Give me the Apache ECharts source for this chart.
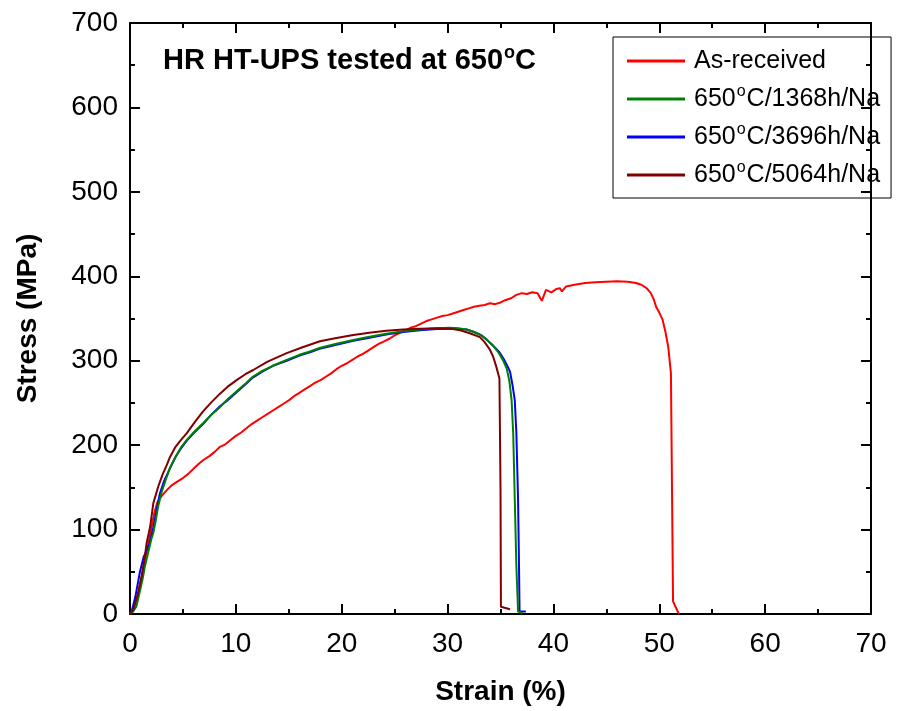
<!DOCTYPE html>
<html>
<head>
<meta charset="utf-8">
<script src="https://cdn.jsdelivr.net/npm/echarts@6/dist/echarts.min.js"></script>
<style>
  html, body { margin: 0; padding: 0; background: #fff; }
  #chart { width: 898px; height: 711px; }
</style>
</head>
<body>
<div id="chart"></div>
<script>
// 数据
var seriesNames = ['As-received', '650°C/1368h/Na', '650°C/3696h/Na', '650°C/5064h/Na'];
var seriesColors = ['#ff0000', '#008000', '#0000ff', '#800000'];

var asReceived = [[0,0],[0.3,5],[0.8,25],[1.2,50],[1.6,75],[2.0,100],[2.3,120],[2.6,133],[3.0,140],[3.5,147],[4.0,153],[4.5,157],[5.0,161],[5.5,166],[6.0,172],[6.5,178],[7.0,183],[7.5,187],[8.0,192],[8.5,198],[9.0,201],[9.5,206],[10,211],[10.5,215],[11,220],[11.5,225],[12,229],[12.5,233],[13,237],[13.5,241],[14,245],[14.5,249],[15,253],[15.5,258],[16,262],[16.5,266],[17,270],[17.5,274],[18,277],[18.5,281],[19,285],[19.5,290],[20,294],[20.5,297],[21,301],[21.5,305],[22,308],[22.5,312],[23,316],[23.5,320],[24,323],[24.5,326],[25,330],[25.5,333],[26,336],[26.5,339],[27,341],[27.5,344],[28,347],[28.5,349],[29,351],[29.5,353],[30,354],[30.5,356],[31,358],[31.5,360],[32,362],[32.5,364],[33,365],[33.5,366],[34,368],[34.5,367],[35,369],[35.5,372],[36,374],[36.5,378],[37,380],[37.5,379],[38,381],[38.5,380],[38.9,371],[39.3,384],[39.8,381],[40.3,385],[40.6,386],[40.8,382],[41.2,388],[42,390],[43,392],[44,393],[45,393.5],[46,394],[47,393.5],[47.8,392],[48.3,390],[48.8,386],[49.2,380],[49.5,372],[49.7,364],[50.0,357],[50.3,349],[50.6,333],[50.85,316],[51.1,285],[51.2,150],[51.3,15],[51.85,0]];

var h1368 = [[0,0],[0.3,3],[0.6,9],[0.9,25],[1.2,42],[1.4,56],[1.7,72],[2.0,88],[2.2,96],[2.45,112],[2.67,128],[3.0,145],[3.4,160],[3.8,174],[4.3,186],[4.8,197],[5.35,206],[6.0,215],[6.9,226],[7.6,235],[8.5,245],[9.2,254],[10.1,264],[11,274],[11.6,281],[12.5,288],[13.5,294],[14.8,301],[16,307],[17,311],[17.9,315],[19.5,320],[21.1,324.5],[22.5,328],[24.2,332],[25.8,335],[27.4,337],[29,338.5],[30.2,339],[31,338.5],[31.8,337],[32.5,334],[33.05,331],[33.6,326],[34.3,318],[34.8,310],[35.3,299],[35.6,290],[35.85,275],[36.05,253],[36.2,214],[36.35,135],[36.5,56],[36.66,3],[37.1,1]];

var h3696 = [[0,0],[0.2,5],[0.5,20],[0.94,50],[1.3,68],[1.6,76],[1.9,86],[2.2,102],[2.5,122],[2.83,143],[3.2,157],[3.8,173],[4.3,186],[4.8,196],[5.35,205],[6.0,214],[6.9,225],[7.6,235],[8.5,246],[9.2,253],[10.1,263],[11,273],[11.6,280],[12.5,287],[13.5,294],[14.8,300],[16,306],[17,310],[17.9,314],[19.5,319],[21.1,323.5],[22.5,327],[24.2,331],[25.8,334],[27.4,336],[29,337.5],[30.2,338],[31,338],[31.8,337],[32.5,334],[33.2,330],[33.7,325],[34.2,319],[34.6,314],[34.9,310],[35.3,302],[35.6,295],[35.9,287],[36.15,270],[36.35,253],[36.5,214],[36.66,135],[36.75,56],[36.8,3],[37.4,3]];

var h5064 = [[0,0],[0.3,5],[0.7,22],[1.1,45],[1.4,68],[1.57,84],[1.9,103],[2.2,131],[2.67,151],[3.1,166],[3.46,176],[3.78,186],[4.3,198],[4.8,206],[5.35,214],[6.1,227],[6.9,240],[7.7,251],[8.5,261],[9.2,269],[10.07,277],[10.9,284],[11.64,289],[13,299],[14.8,309],[16.3,316],[17.94,323],[19.5,327],[21.1,330.5],[22.6,333],[24.2,335.6],[25.8,337],[27.4,338],[29,338.5],[30.2,338],[31.2,336],[32.1,332.5],[33.05,328],[33.5,322],[34,313],[34.3,305],[34.6,293],[34.9,279],[35.0,150],[35.04,8.6],[35.9,5.6]];

var seriesData = [asReceived, h1368, h3696, h5064];
var seriesZ = [2, 4, 3, 5];

var fontName = '"Liberation Sans", Arial, sans-serif';

// 1. 实例化对象
const myChart = echarts.init(document.getElementById('chart'));

function axisBase(showLabel) {
  return {
    type: 'value',
    axisLine: { show: true, onZero: false, lineStyle: { color: '#000', width: 2 } },
    axisTick: { show: true, inside: true, length: 10, lineStyle: { color: '#000', width: 2 } },
    minorTick: { show: true, splitNumber: 2, length: 5, lineStyle: { color: '#000', width: 2 } },
    splitLine: { show: false },
    axisLabel: { show: showLabel, color: '#000', fontSize: 28, fontFamily: fontName }
  };
}

var xBottom = axisBase(true);
xBottom.min = 0; xBottom.max = 70; xBottom.interval = 10;
xBottom.position = 'bottom';
xBottom.axisLabel.margin = 16;
xBottom.name = 'Strain (%)';
xBottom.nameLocation = 'middle';
xBottom.nameGap = 64;
xBottom.nameTextStyle = { color: '#000', fontSize: 28, fontWeight: 'bold', fontFamily: fontName };

var xTop = axisBase(false);
xTop.min = 0; xTop.max = 70; xTop.interval = 10;
xTop.position = 'top';

var yLeft = axisBase(true);
yLeft.min = 0; yLeft.max = 700; yLeft.interval = 100;
yLeft.position = 'left';
yLeft.axisLabel.margin = 12;
yLeft.name = 'Stress (MPa)';
yLeft.nameLocation = 'middle';
yLeft.nameGap = 88;
yLeft.nameTextStyle = { color: '#000', fontSize: 28, fontWeight: 'bold', fontFamily: fontName };

var yRight = axisBase(false);
yRight.min = 0; yRight.max = 700; yRight.interval = 100;
yRight.position = 'right';

// 2.指定配置
const option = {
  animation: false,
  backgroundColor: '#fff',
  title: {
    left: 158,
    top: 39,
    text: '{b|HR HT-UPS tested at 650}{sup|o}{b|C}',
    textStyle: {
      rich: {
        b: { fontSize: 29, fontWeight: 'bold', color: '#000', fontFamily: fontName },
        sup: { fontSize: 18, fontWeight: 'bold', color: '#000', fontFamily: fontName, padding: [0, 0, 16, 1] }
      }
    }
  },
  legend: {
    orient: 'vertical',
    left: 613,
    top: 37,
    padding: [10, 11, 9, 14],
    borderColor: '#000',
    borderWidth: 1,
    itemGap: 9,
    itemWidth: 58,
    itemHeight: 3,
    icon: 'rect',
    data: seriesNames,
    formatter: function (name) {
      return name.replace('°', '{sup|o}');
    },
    textStyle: {
      color: '#000',
      fontSize: 25,
      fontFamily: fontName,
      lineHeight: 28,
      padding: [0, 0, 0, 4],
      rich: {
        sup: { fontSize: 16, fontFamily: fontName, color: '#000', padding: [0, 1, 14, 1] }
      }
    }
  },
  grid: {
    left: 130,
    right: 27,
    top: 23,
    bottom: 97
  },
  xAxis: [xBottom, xTop],
  yAxis: [yLeft, yRight],
  series: seriesData.map(function (d, i) {
    return {
      name: seriesNames[i],
      type: 'line',
      data: d,
      showSymbol: false,
      symbol: 'none',
      z: seriesZ[i],
      lineStyle: { color: seriesColors[i], width: 2 },
      itemStyle: { color: seriesColors[i] }
    };
  })
};
// 3. 把配置给实例对象
myChart.setOption(option);
// 4. 让图表跟随屏幕自动的去适应
window.addEventListener("resize", function () {
  myChart.resize();
});
</script>
</body>
</html>
